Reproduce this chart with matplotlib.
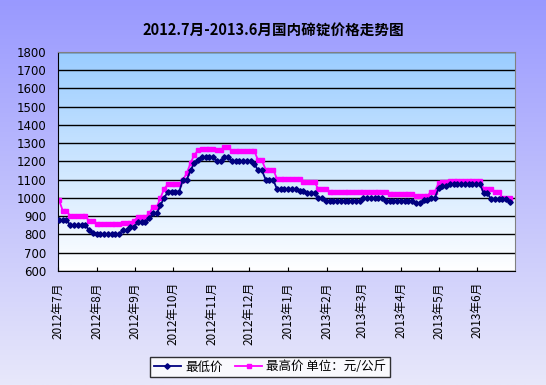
import numpy as np
import pandas as pd
import matplotlib.pyplot as plt
from matplotlib.colors import LinearSegmentedColormap

plt.rcParams["font.family"] = ["Noto Sans CJK SC", "DejaVu Sans"]
plt.rcParams["axes.unicode_minus"] = False

# 每3天取一个点 (2012-07-02 起)
dates = pd.date_range("2012-07-02", periods=121, freq="3D")

# 最低价 (元/公斤)
low_price = [
    880, 880, 880, 850, 850, 850, 850, 850, 825, 810,
    800, 800, 800, 800, 800, 800, 800, 825, 825, 840,
    840, 870, 870, 870, 888, 915, 915, 960, 1000, 1035,
    1035, 1035, 1035, 1100, 1100, 1150, 1190, 1210, 1225, 1225,
    1225, 1225, 1200, 1200, 1225, 1225, 1200, 1200, 1200, 1200,
    1200, 1200, 1185, 1150, 1150, 1100, 1100, 1100, 1048, 1048,
    1048, 1048, 1048, 1048, 1040, 1040, 1028, 1028, 1028, 1000,
    1000, 985, 985, 985, 985, 985, 985, 985, 985, 985,
    985, 1000, 1000, 1000, 1000, 1000, 1000, 985, 985, 985,
    985, 985, 985, 985, 985, 970, 970, 988, 988, 1000,
    1000, 1052, 1065, 1065, 1075, 1075, 1075, 1075, 1075, 1075,
    1075, 1075, 1075, 1025, 1025, 992, 992, 992, 992, 992,
    975,
]

# 最高价 (元/公斤)
high_price = [
    990, 930, 930, 900, 900, 900, 900, 900, 875, 875,
    855, 855, 855, 855, 855, 855, 855, 865, 865, 865,
    875, 895, 895, 895, 915, 950, 950, 1000, 1050, 1075,
    1075, 1075, 1075, 1100, 1135, 1190, 1235, 1260, 1265, 1265,
    1265, 1265, 1260, 1260, 1280, 1280, 1255, 1255, 1255, 1255,
    1255, 1255, 1255, 1205, 1205, 1155, 1155, 1155, 1105, 1105,
    1105, 1105, 1105, 1105, 1105, 1085, 1085, 1085, 1085, 1050,
    1050, 1050, 1035, 1035, 1035, 1035, 1035, 1035, 1035, 1035,
    1035, 1035, 1035, 1035, 1035, 1035, 1035, 1035, 1020, 1020,
    1020, 1020, 1020, 1020, 1020, 1010, 1010, 1010, 1010, 1035,
    1035, 1080, 1085, 1085, 1095, 1095, 1095, 1095, 1095, 1095,
    1095, 1095, 1095, 1050, 1050, 1050, 1035, 1035, 1000, 1000,
    1000,
]

month_ticks = pd.date_range("2012-07-01", "2013-06-01", freq="MS")
month_labels = [f"{d.year}年{d.month}月" for d in month_ticks]

fig = plt.figure(figsize=(5.46, 3.85), dpi=100)

# 背景渐变
bg = fig.add_axes([0, 0, 1, 1], zorder=-10)
bg_cmap = LinearSegmentedColormap.from_list("bg", ["#E8E8FA", "#9999FF"])
bg.imshow(np.linspace(0, 1, 256).reshape(-1, 1), cmap=bg_cmap, aspect="auto",
          extent=[0, 1, 0, 1], origin="lower")
bg.axis("off")

ax = fig.add_axes([0.1057, 0.2961, 0.8375, 0.5696])
area_cmap = LinearSegmentedColormap.from_list("area", ["#FFFFFF", "#99CCFF"])
ax.imshow(np.linspace(0, 1, 256).reshape(-1, 1), cmap=area_cmap, aspect="auto",
          extent=[0, 1, 0, 1], origin="lower", transform=ax.transAxes, zorder=-1)

ax.plot(dates, low_price, color="#000080", lw=1.3, marker="D", ms=2.8,
        mec="#000080", mfc="#000080", label="最低价", zorder=3)
ax.plot(dates, high_price, color="#FF00FF", lw=1.3, marker="s", ms=2.8,
        mec="#FF00FF", mfc="#FF00FF", label="最高价 单位：元/公斤", zorder=2)

ax.set_xlim(pd.Timestamp("2012-07-01"), pd.Timestamp("2013-07-01"))
ax.set_ylim(600, 1800)
ax.set_yticks(range(600, 1900, 100))
ax.set_xticks(month_ticks)
ax.set_xticklabels(month_labels, rotation=90, fontsize=8.5)
ax.tick_params(axis="x", direction="in", length=3, pad=8, color="black")
ax.tick_params(axis="y", length=0, pad=8, labelsize=8.5)
for lab in ax.get_yticklabels():
    lab.set_family(["DejaVu Sans"])
ax.grid(axis="y", color="black", lw=1)

ax.spines["left"].set_color("black")
ax.spines["bottom"].set_color("black")
ax.spines["top"].set_color("#808080")
ax.spines["right"].set_color("#808080")

fig.text(0.5, 1 - 29.5 / 385, "2012.7月-2013.6月国内碲锭价格走势图",
         ha="center", va="center", fontsize=10.5, fontweight="bold")

leg = fig.legend(loc="center", bbox_to_anchor=(0.4945, 0.047), ncol=2,
                 fontsize=9, frameon=True, fancybox=False, handlelength=2.2,
                 columnspacing=1.0, handletextpad=0.3, borderpad=0.3)
leg.get_frame().set_edgecolor("black")
leg.get_frame().set_facecolor("white")
leg.get_frame().set_linewidth(1)

plt.savefig("out.png", dpi=100)
